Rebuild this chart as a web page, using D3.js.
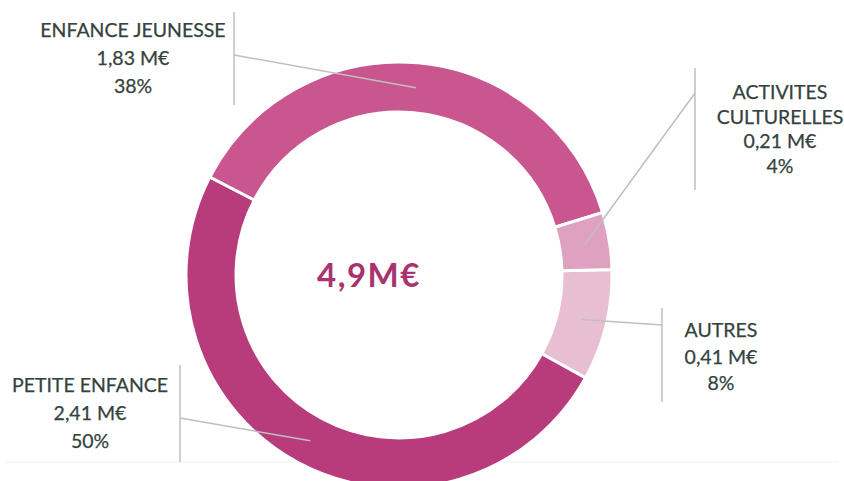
<!DOCTYPE html>
<html>
<head>
<meta charset="utf-8">
<script src="https://cdn.jsdelivr.net/npm/d3@7"></script>
<style>
  html, body { margin: 0; padding: 0; background: #ffffff; }
  svg { display: block; }
</style>
</head>
<body>
<svg id="chart" width="844" height="481"></svg>
<script>
// ---- data ----
const categories = ["AUTRES", "PETITE ENFANCE", "ENFANCE JEUNESSE", "ACTIVITES CULTURELLES"];
const nameLines = [["AUTRES"], ["PETITE ENFANCE"], ["ENFANCE JEUNESSE"], ["ACTIVITES", "CULTURELLES"]];
const amounts = [0.41, 2.41, 1.83, 0.21];
const amountLabels = ["0,41 M€", "2,41 M€", "1,83 M€", "0,21 M€"];
const percentLabels = ["8%", "50%", "38%", "4%"];
const totalLabel = "4,9M€";

// ---- style / layout ----
const colors = ["#e8bfd2", "#b83c7b", "#c9568f", "#dea2c0"];
const labelLayout = [
  { x: 721, y: 337, dy: 26.5, barX: 662, barY0: 308, barY1: 402, anchorY: 325 },
  { x: 90,  y: 392, dy: 28,   barX: 180, barY0: 365, barY1: 462, anchorY: 418 },
  { x: 133, y: 37,  dy: 28,   barX: 234, barY0: 12,  barY1: 105, anchorY: 55 },
  { x: 780, y: 99,  dy: 24.7, barX: 695, barY0: 68,  barY1: 190, anchorY: 93 }
];
const cx = 399, cy = 275, rOuter = 213, rInner = 163;
const startDeg = 88.5;

const svg = d3.select("#chart");

// faint scan line near bottom
svg.append("line")
  .attr("x1", 6).attr("x2", 838).attr("y1", 462).attr("y2", 462)
  .attr("stroke", "#efefef").attr("stroke-width", 1.2);

const data = categories.map((c, i) => ({ cat: c, value: amounts[i], i }));

const pie = d3.pie()
  .sort(null)
  .value(d => d.value)
  .startAngle(startDeg * Math.PI / 180)
  .endAngle(startDeg * Math.PI / 180 + 2 * Math.PI);

const arc = d3.arc().innerRadius(rInner).outerRadius(rOuter);
const arcs = pie(data);

const g = svg.append("g").attr("transform", `translate(${cx},${cy})`);

g.selectAll("path.slice")
  .data(arcs)
  .join("path")
  .attr("class", "slice")
  .attr("d", arc)
  .attr("fill", d => colors[d.data.i])
  .attr("stroke", "#ffffff")
  .attr("stroke-width", 3)
  .attr("stroke-linejoin", "miter");

// center total
svg.append("text")
  .attr("x", 369).attr("y", 287)
  .attr("text-anchor", "middle")
  .attr("font-family", "Lato, 'Open Sans', sans-serif")
  .attr("font-weight", 700)
  .attr("font-size", 33)
  .attr("letter-spacing", 1.5)
  .attr("fill", "#a8336f")
  .text(totalLabel);

// leader bars & lines
const lineColor = "#bfbfbf";
arcs.forEach(a => {
  const L = labelLayout[a.data.i];
  const c = arc.centroid(a);
  svg.append("line")
    .attr("x1", L.barX).attr("x2", L.barX)
    .attr("y1", L.barY0).attr("y2", L.barY1)
    .attr("stroke", lineColor).attr("stroke-width", 1.5);
  svg.append("line")
    .attr("x1", L.barX).attr("y1", L.anchorY)
    .attr("x2", cx + c[0]).attr("y2", cy + c[1])
    .attr("stroke", lineColor).attr("stroke-width", 1.5);
});

// labels
arcs.forEach(a => {
  const i = a.data.i;
  const L = labelLayout[i];
  const lines = nameLines[i].concat([amountLabels[i], percentLabels[i]]);
  const t = svg.append("text")
    .attr("text-anchor", "middle")
    .attr("font-family", "Lato, 'Open Sans', sans-serif")
    .attr("font-size", 19.5)
    .attr("fill", "#34423d")
    .attr("stroke", "#34423d")
    .attr("stroke-width", 0.25);
  lines.forEach((s, k) => {
    t.append("tspan")
      .attr("x", L.x)
      .attr("y", L.y + k * L.dy)
      .text(s);
  });
});
</script>
</body>
</html>
